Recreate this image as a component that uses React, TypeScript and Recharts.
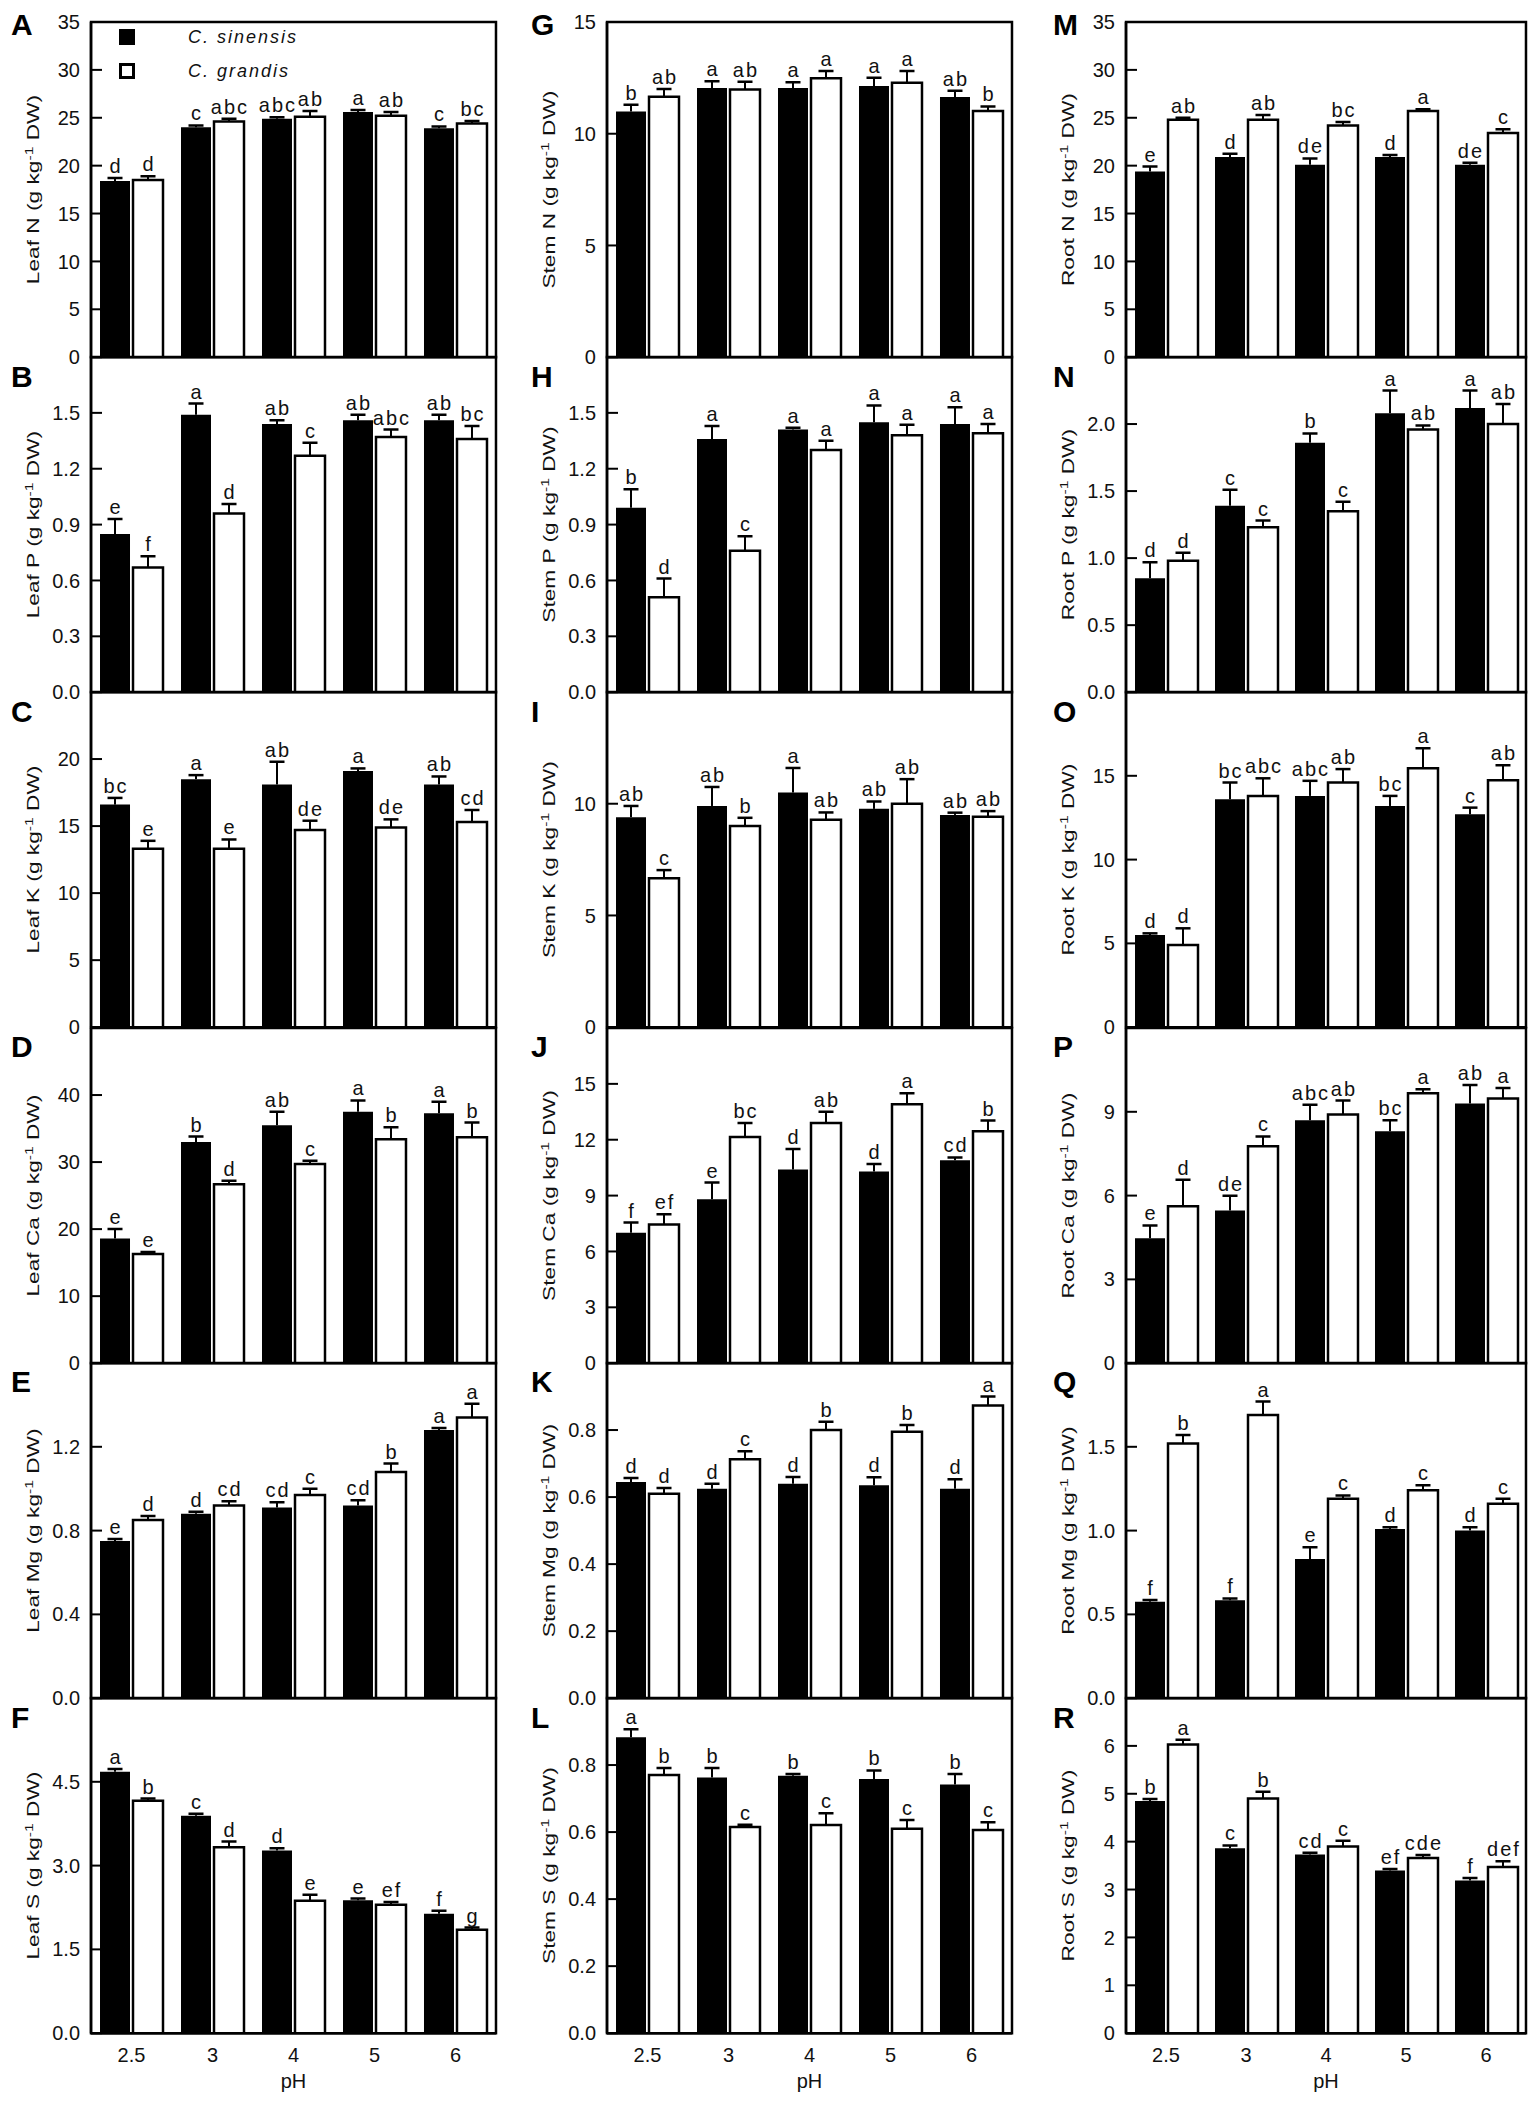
import React from 'react';
import { BarChart, Bar, XAxis, YAxis, LabelList, Legend, ReferenceArea } from 'recharts';

const FONT = 'Arial, "Liberation Sans", Helvetica, sans-serif';

// ---------- categories / legend ----------
const PH = ['2.5', '3', '4', '5', '6'];
const SPECIES = ['C. sinensis', 'C. grandis'];

// ---------- Leaf ----------
const leafN_sin = [18.4, 24.0, 24.9, 25.6, 23.9];
const leafN_sinSE = [0.3, 0.2, 0.15, 0.2, 0.2];
const leafN_gra = [18.5, 24.6, 25.1, 25.2, 24.4];
const leafN_graSE = [0.4, 0.3, 0.6, 0.4, 0.25];
const leafN_sinLet = ['d', 'c', 'abc', 'a', 'c'];
const leafN_graLet = ['d', 'abc', 'ab', 'ab', 'bc'];

const leafP_sin = [0.85, 1.49, 1.44, 1.46, 1.46];
const leafP_sinSE = [0.08, 0.06, 0.02, 0.03, 0.03];
const leafP_gra = [0.67, 0.96, 1.27, 1.37, 1.36];
const leafP_graSE = [0.06, 0.05, 0.07, 0.04, 0.07];
const leafP_sinLet = ['e', 'a', 'ab', 'ab', 'ab'];
const leafP_graLet = ['f', 'd', 'c', 'abc', 'bc'];

const leafK_sin = [16.6, 18.5, 18.1, 19.1, 18.1];
const leafK_sinSE = [0.5, 0.3, 1.7, 0.2, 0.6];
const leafK_gra = [13.3, 13.3, 14.7, 14.9, 15.3];
const leafK_graSE = [0.6, 0.7, 0.7, 0.6, 0.9];
const leafK_sinLet = ['bc', 'a', 'ab', 'a', 'ab'];
const leafK_graLet = ['e', 'e', 'de', 'de', 'cd'];

const leafCa_sin = [18.6, 33.0, 35.5, 37.5, 37.3];
const leafCa_sinSE = [1.4, 0.8, 2.0, 1.7, 1.7];
const leafCa_gra = [16.3, 26.7, 29.7, 33.4, 33.7];
const leafCa_graSE = [0.3, 0.5, 0.5, 1.8, 2.2];
const leafCa_sinLet = ['e', 'b', 'ab', 'a', 'a'];
const leafCa_graLet = ['e', 'd', 'c', 'b', 'b'];

const leafMg_sin = [0.75, 0.88, 0.91, 0.92, 1.28];
const leafMg_sinSE = [0.01, 0.01, 0.025, 0.025, 0.01];
const leafMg_gra = [0.85, 0.92, 0.97, 1.08, 1.34];
const leafMg_graSE = [0.02, 0.02, 0.03, 0.04, 0.065];
const leafMg_sinLet = ['e', 'd', 'cd', 'cd', 'a'];
const leafMg_graLet = ['d', 'cd', 'c', 'b', 'a'];

const leafS_sin = [4.68, 3.89, 3.27, 2.38, 2.14];
const leafS_sinSE = [0.05, 0.04, 0.04, 0.03, 0.05];
const leafS_gra = [4.16, 3.33, 2.37, 2.3, 1.85];
const leafS_graSE = [0.04, 0.1, 0.11, 0.05, 0.04];
const leafS_sinLet = ['a', 'c', 'd', 'e', 'f'];
const leafS_graLet = ['b', 'd', 'e', 'ef', 'g'];

// ---------- Stem ----------
const stemN_sin = [11.0, 12.05, 12.05, 12.14, 11.64];
const stemN_sinSE = [0.3, 0.3, 0.25, 0.37, 0.28];
const stemN_gra = [11.65, 11.98, 12.48, 12.28, 11.02];
const stemN_graSE = [0.35, 0.35, 0.33, 0.53, 0.2];
const stemN_sinLet = ['b', 'a', 'a', 'a', 'ab'];
const stemN_graLet = ['ab', 'ab', 'a', 'a', 'b'];

const stemP_sin = [0.99, 1.36, 1.41, 1.45, 1.44];
const stemP_sinSE = [0.1, 0.07, 0.01, 0.09, 0.09];
const stemP_gra = [0.51, 0.76, 1.3, 1.38, 1.39];
const stemP_graSE = [0.1, 0.077, 0.05, 0.056, 0.05];
const stemP_sinLet = ['b', 'a', 'a', 'a', 'a'];
const stemP_graLet = ['d', 'c', 'a', 'a', 'a'];

const stemK_sin = [9.4, 9.9, 10.5, 9.77, 9.5];
const stemK_sinSE = [0.5, 0.85, 1.1, 0.33, 0.1];
const stemK_gra = [6.66, 9.0, 9.28, 10.0, 9.42];
const stemK_graSE = [0.37, 0.37, 0.33, 1.1, 0.25];
const stemK_sinLet = ['ab', 'ab', 'a', 'ab', 'ab'];
const stemK_graLet = ['c', 'b', 'ab', 'ab', 'ab'];

const stemCa_sin = [7.0, 8.8, 10.4, 10.3, 10.9];
const stemCa_sinSE = [0.55, 0.9, 1.1, 0.4, 0.15];
const stemCa_gra = [7.45, 12.15, 12.9, 13.9, 12.45];
const stemCa_graSE = [0.55, 0.75, 0.6, 0.6, 0.58];
const stemCa_sinLet = ['f', 'e', 'd', 'd', 'cd'];
const stemCa_graLet = ['ef', 'bc', 'ab', 'a', 'b'];

const stemMg_sin = [0.645, 0.625, 0.64, 0.635, 0.625];
const stemMg_sinSE = [0.012, 0.015, 0.02, 0.024, 0.028];
const stemMg_gra = [0.61, 0.713, 0.8, 0.795, 0.873];
const stemMg_graSE = [0.017, 0.024, 0.025, 0.02, 0.027];
const stemMg_sinLet = ['d', 'd', 'd', 'd', 'd'];
const stemMg_graLet = ['d', 'c', 'b', 'b', 'a'];

const stemS_sin = [0.883, 0.763, 0.768, 0.758, 0.742];
const stemS_sinSE = [0.024, 0.028, 0.005, 0.026, 0.031];
const stemS_gra = [0.77, 0.615, 0.621, 0.61, 0.606];
const stemS_graSE = [0.021, 0.007, 0.035, 0.026, 0.023];
const stemS_sinLet = ['a', 'b', 'b', 'b', 'b'];
const stemS_graLet = ['b', 'c', 'c', 'c', 'c'];

// ---------- Root ----------
const rootN_sin = [19.4, 20.9, 20.1, 20.9, 20.1];
const rootN_sinSE = [0.5, 0.35, 0.65, 0.2, 0.2];
const rootN_gra = [24.8, 24.8, 24.2, 25.7, 23.4];
const rootN_graSE = [0.2, 0.5, 0.35, 0.2, 0.4];
const rootN_sinLet = ['e', 'd', 'de', 'd', 'de'];
const rootN_graLet = ['ab', 'ab', 'bc', 'a', 'c'];

const rootP_sin = [0.85, 1.39, 1.86, 2.08, 2.12];
const rootP_sinSE = [0.12, 0.12, 0.07, 0.17, 0.13];
const rootP_gra = [0.98, 1.23, 1.35, 1.96, 2.0];
const rootP_graSE = [0.06, 0.05, 0.07, 0.03, 0.15];
const rootP_sinLet = ['d', 'c', 'b', 'a', 'a'];
const rootP_graLet = ['d', 'c', 'c', 'ab', 'ab'];

const rootK_sin = [5.5, 13.6, 13.8, 13.2, 12.7];
const rootK_sinSE = [0.1, 1.0, 0.9, 0.6, 0.4];
const rootK_gra = [4.9, 13.8, 14.6, 15.45, 14.73];
const rootK_graSE = [1.0, 1.05, 0.8, 1.2, 0.9];
const rootK_sinLet = ['d', 'bc', 'abc', 'bc', 'c'];
const rootK_graLet = ['d', 'abc', 'ab', 'a', 'ab'];

const rootCa_sin = [4.47, 5.47, 8.7, 8.3, 9.3];
const rootCa_sinSE = [0.46, 0.52, 0.55, 0.4, 0.66];
const rootCa_gra = [5.62, 7.77, 8.9, 9.66, 9.48];
const rootCa_graSE = [0.95, 0.35, 0.5, 0.15, 0.37];
const rootCa_sinLet = ['e', 'de', 'abc', 'bc', 'ab'];
const rootCa_graLet = ['d', 'c', 'ab', 'a', 'a'];

const rootMg_sin = [0.576, 0.585, 0.83, 1.01, 1.0];
const rootMg_sinSE = [0.01, 0.01, 0.07, 0.01, 0.02];
const rootMg_gra = [1.52, 1.69, 1.19, 1.24, 1.16];
const rootMg_graSE = [0.05, 0.08, 0.02, 0.03, 0.03];
const rootMg_sinLet = ['f', 'f', 'e', 'd', 'd'];
const rootMg_graLet = ['b', 'a', 'c', 'c', 'c'];

const rootS_sin = [4.85, 3.86, 3.73, 3.4, 3.19];
const rootS_sinSE = [0.04, 0.06, 0.04, 0.03, 0.05];
const rootS_gra = [6.03, 4.9, 3.9, 3.66, 3.47];
const rootS_graSE = [0.1, 0.14, 0.12, 0.06, 0.12];
const rootS_sinLet = ['b', 'c', 'cd', 'ef', 'f'];
const rootS_graLet = ['a', 'b', 'c', 'cde', 'def'];

// ---------- axis tick labels ----------
const TICKS_0_35 = [0, 5, 10, 15, 20, 25, 30, 35];
const TICKS_0_15_P3 = [0, 0.3, 0.6, 0.9, 1.2, 1.5];

type PanelDef = {
  letter: string;
  title: string;
  sin: number[];
  sinSE: number[];
  gra: number[];
  graSE: number[];
  sinLet: string[];
  graLet: string[];
  max: number;
  ticks: number[];
  dec: number;
};

const COLUMNS: PanelDef[][] = [
  [
    { letter: 'A', title: 'Leaf N', sin: leafN_sin, sinSE: leafN_sinSE, gra: leafN_gra, graSE: leafN_graSE, sinLet: leafN_sinLet, graLet: leafN_graLet, max: 35, ticks: TICKS_0_35, dec: 0 },
    { letter: 'B', title: 'Leaf P', sin: leafP_sin, sinSE: leafP_sinSE, gra: leafP_gra, graSE: leafP_graSE, sinLet: leafP_sinLet, graLet: leafP_graLet, max: 1.8, ticks: TICKS_0_15_P3, dec: 1 },
    { letter: 'C', title: 'Leaf K', sin: leafK_sin, sinSE: leafK_sinSE, gra: leafK_gra, graSE: leafK_graSE, sinLet: leafK_sinLet, graLet: leafK_graLet, max: 25, ticks: [0, 5, 10, 15, 20], dec: 0 },
    { letter: 'D', title: 'Leaf Ca', sin: leafCa_sin, sinSE: leafCa_sinSE, gra: leafCa_gra, graSE: leafCa_graSE, sinLet: leafCa_sinLet, graLet: leafCa_graLet, max: 50, ticks: [0, 10, 20, 30, 40], dec: 0 },
    { letter: 'E', title: 'Leaf Mg', sin: leafMg_sin, sinSE: leafMg_sinSE, gra: leafMg_gra, graSE: leafMg_graSE, sinLet: leafMg_sinLet, graLet: leafMg_graLet, max: 1.6, ticks: [0, 0.4, 0.8, 1.2], dec: 1 },
    { letter: 'F', title: 'Leaf S', sin: leafS_sin, sinSE: leafS_sinSE, gra: leafS_gra, graSE: leafS_graSE, sinLet: leafS_sinLet, graLet: leafS_graLet, max: 6, ticks: [0, 1.5, 3, 4.5], dec: 1 },
  ],
  [
    { letter: 'G', title: 'Stem N', sin: stemN_sin, sinSE: stemN_sinSE, gra: stemN_gra, graSE: stemN_graSE, sinLet: stemN_sinLet, graLet: stemN_graLet, max: 15, ticks: [0, 5, 10, 15], dec: 0 },
    { letter: 'H', title: 'Stem P', sin: stemP_sin, sinSE: stemP_sinSE, gra: stemP_gra, graSE: stemP_graSE, sinLet: stemP_sinLet, graLet: stemP_graLet, max: 1.8, ticks: TICKS_0_15_P3, dec: 1 },
    { letter: 'I', title: 'Stem K', sin: stemK_sin, sinSE: stemK_sinSE, gra: stemK_gra, graSE: stemK_graSE, sinLet: stemK_sinLet, graLet: stemK_graLet, max: 15, ticks: [0, 5, 10], dec: 0 },
    { letter: 'J', title: 'Stem Ca', sin: stemCa_sin, sinSE: stemCa_sinSE, gra: stemCa_gra, graSE: stemCa_graSE, sinLet: stemCa_sinLet, graLet: stemCa_graLet, max: 18, ticks: [0, 3, 6, 9, 12, 15], dec: 0 },
    { letter: 'K', title: 'Stem Mg', sin: stemMg_sin, sinSE: stemMg_sinSE, gra: stemMg_gra, graSE: stemMg_graSE, sinLet: stemMg_sinLet, graLet: stemMg_graLet, max: 1.0, ticks: [0, 0.2, 0.4, 0.6, 0.8], dec: 1 },
    { letter: 'L', title: 'Stem S', sin: stemS_sin, sinSE: stemS_sinSE, gra: stemS_gra, graSE: stemS_graSE, sinLet: stemS_sinLet, graLet: stemS_graLet, max: 1.0, ticks: [0, 0.2, 0.4, 0.6, 0.8], dec: 1 },
  ],
  [
    { letter: 'M', title: 'Root N', sin: rootN_sin, sinSE: rootN_sinSE, gra: rootN_gra, graSE: rootN_graSE, sinLet: rootN_sinLet, graLet: rootN_graLet, max: 35, ticks: TICKS_0_35, dec: 0 },
    { letter: 'N', title: 'Root P', sin: rootP_sin, sinSE: rootP_sinSE, gra: rootP_gra, graSE: rootP_graSE, sinLet: rootP_sinLet, graLet: rootP_graLet, max: 2.5, ticks: [0, 0.5, 1, 1.5, 2], dec: 1 },
    { letter: 'O', title: 'Root K', sin: rootK_sin, sinSE: rootK_sinSE, gra: rootK_gra, graSE: rootK_graSE, sinLet: rootK_sinLet, graLet: rootK_graLet, max: 20, ticks: [0, 5, 10, 15], dec: 0 },
    { letter: 'P', title: 'Root Ca', sin: rootCa_sin, sinSE: rootCa_sinSE, gra: rootCa_gra, graSE: rootCa_graSE, sinLet: rootCa_sinLet, graLet: rootCa_graLet, max: 12, ticks: [0, 3, 6, 9], dec: 0 },
    { letter: 'Q', title: 'Root Mg', sin: rootMg_sin, sinSE: rootMg_sinSE, gra: rootMg_gra, graSE: rootMg_graSE, sinLet: rootMg_sinLet, graLet: rootMg_graLet, max: 2.0, ticks: [0, 0.5, 1, 1.5], dec: 1 },
    { letter: 'R', title: 'Root S', sin: rootS_sin, sinSE: rootS_sinSE, gra: rootS_gra, graSE: rootS_graSE, sinLet: rootS_sinLet, graLet: rootS_graLet, max: 7, ticks: [0, 1, 2, 3, 4, 5, 6], dec: 0 },
  ],
];

// ---------- layout ----------
const COL_AXIS_X = [91, 607, 1126];
const COL_PLOT_W = [405, 405, 400];
const LETTER_X = [11, 531, 1053];
const ROW_TOP0 = 22;
const ROW_H = 335.2;
const YW = 90;
const TOP_PAD = 20;
const RIGHT_PAD = 10;
const AXIS_STYLE = { stroke: '#000', strokeWidth: 2.5 };

const ErrShape = (props: any) => {
  const { x, y, width, height } = props;
  if (x == null || y == null) return null;
  const cx = x + width / 2;
  return (
    <g>
      <line x1={cx} y1={y} x2={cx} y2={y + height} stroke="#000" strokeWidth={2} />
      <line x1={cx - 7.5} y1={y} x2={cx + 7.5} y2={y} stroke="#000" strokeWidth={2.5} />
    </g>
  );
};

const LetterLabel = (props: any) => {
  const vb = props.viewBox || {};
  const x = props.x ?? vb.x;
  const y = props.y ?? vb.y;
  const w = props.width ?? vb.width ?? 0;
  if (x == null || y == null) return null;
  return (
    <text
      x={x + w / 2 + 1}
      y={y - 5}
      textAnchor="middle"
      fontSize={20}
      fontFamily={FONT}
      letterSpacing={2}
      fill="#111"
    >
      {props.value}
    </text>
  );
};

const makeYTitle = (title: string) => (props: any) => {
  const vb = props.viewBox || { x: 0, y: TOP_PAD, width: YW, height: ROW_H };
  const bx = vb.x + vb.width - 52;
  const cy = vb.y + vb.height / 2;
  return (
    <text
      transform={`translate(${bx},${cy}) rotate(-90) scale(1.42,1)`}
      textAnchor="middle"
      fontSize={16}
      fontFamily={FONT}
      fill="#111"
    >
      <tspan>{title} (g kg</tspan>
      <tspan fontSize={11} dy={-6}>-1</tspan>
      <tspan dy={6}> DW)</tspan>
    </text>
  );
};

const PHLabel = (props: any) => {
  const vb = props.viewBox || { x: YW, y: TOP_PAD + ROW_H, width: 405, height: 60 };
  return (
    <text
      x={vb.x + vb.width / 2}
      y={vb.y + 48}
      textAnchor="middle"
      dominantBaseline="central"
      fontSize={20}
      fontFamily={FONT}
      fill="#111"
    >
      pH
    </text>
  );
};

const LegendContent = () => (
  <div style={{ fontFamily: FONT }}>
    {SPECIES.map((name: string, i: number) => (
      <div
        key={name}
        style={{ display: 'flex', alignItems: 'center', height: 16, marginBottom: i === 0 ? 18 : 0 }}
      >
        <div
          style={{
            width: 16,
            height: 16,
            boxSizing: 'border-box',
            background: i === 0 ? '#000' : '#fff',
            border: '3px solid #000',
            flex: 'none',
          }}
        />
        <span
          style={{
            marginLeft: 53,
            fontSize: 18,
            fontStyle: 'italic',
            letterSpacing: 2,
            color: '#111',
            lineHeight: '16px',
            whiteSpace: 'nowrap',
          }}
        >
          {name}
        </span>
      </div>
    ))}
  </div>
);

const Panel = ({ def, col, row }: { def: PanelDef; col: number; row: number }) => {
  const data = PH.map((ph, i) => ({
    ph,
    sin: def.sin[i],
    sinE: def.sinSE[i],
    sinL: def.sinLet[i],
    gra: def.gra[i],
    graE: def.graSE[i],
    graL: def.graLet[i],
  }));
  const isBottom = row === 5;
  const xH = isBottom ? 60 : 0;
  const plotW = COL_PLOT_W[col];
  const plotTop = ROW_TOP0 + row * ROW_H;
  const width = YW + plotW + RIGHT_PAD;
  const height = TOP_PAD + ROW_H + xH + 10;
  const showLegend = row === 0 && col === 0;
  return (
    <div style={{ position: 'absolute', left: COL_AXIS_X[col] - YW, top: plotTop - TOP_PAD }}>
      <BarChart
        width={width}
        height={height}
        data={data}
        margin={{ top: TOP_PAD, right: RIGHT_PAD, left: 0, bottom: 10 }}
        barCategoryGap={9}
        barGap={3}
      >
        <XAxis
          dataKey="ph"
          height={xH}
          interval={0}
          tickLine={false}
          axisLine={AXIS_STYLE}
          tickMargin={9}
          tick={isBottom ? { fontSize: 20, fill: '#111', fontFamily: FONT } : false}
          label={isBottom ? { content: PHLabel } : undefined}
        />
        <YAxis
          type="number"
          domain={[0, def.max]}
          ticks={def.ticks}
          interval={0}
          width={YW}
          allowDataOverflow
          tickSize={-11}
          tickMargin={22}
          tickLine={{ stroke: '#000', strokeWidth: 2 }}
          axisLine={AXIS_STYLE}
          tick={{ fontSize: 20, fill: '#111', fontFamily: FONT }}
          tickFormatter={(v: number) => v.toFixed(def.dec)}
          label={{ content: makeYTitle(def.title) }}
        />
        <Bar dataKey="sin" name={SPECIES[0]} stackId="s" fill="#000" isAnimationActive={false} />
        <Bar dataKey="sinE" stackId="s" legendType="none" shape={ErrShape} isAnimationActive={false}>
          <LabelList dataKey="sinL" content={LetterLabel} />
        </Bar>
        <Bar dataKey="gra" name={SPECIES[1]} stackId="g" fill="#fff" stroke="#000" strokeWidth={2.5} isAnimationActive={false} />
        <Bar dataKey="graE" stackId="g" legendType="none" shape={ErrShape} isAnimationActive={false}>
          <LabelList dataKey="graL" content={LetterLabel} />
        </Bar>
        <ReferenceArea
          x1={PH[0]}
          x2={PH[PH.length - 1]}
          y1={0}
          y2={def.max}
          fill="none"
          fillOpacity={0}
          stroke="#000"
          strokeWidth={2.5}
          ifOverflow="visible"
        />
        {showLegend && (
          <Legend
            layout="vertical"
            align="center"
            verticalAlign="middle"
            wrapperStyle={{ left: 118, top: 27, width: 260 }}
            content={LegendContent}
          />
        )}
      </BarChart>
    </div>
  );
};

export default function App() {
  return (
    <div
      style={{
        position: 'absolute',
        left: 0,
        top: 0,
        width: 1535,
        height: 2102,
        background: '#fff',
        fontFamily: FONT,
        overflow: 'hidden',
      }}
    >
      {COLUMNS.map((colDefs, c) =>
        colDefs.map((def, r) => (
          <React.Fragment key={def.letter}>
            <Panel def={def} col={c} row={r} />
            <div
              style={{
                position: 'absolute',
                left: LETTER_X[c],
                top: r === 0 ? 9.6 : ROW_TOP0 + r * ROW_H + 4.6,
                fontSize: 30,
                fontWeight: 'bold',
                lineHeight: '30px',
                color: '#000',
                fontFamily: FONT,
              }}
            >
              {def.letter}
            </div>
          </React.Fragment>
        ))
      )}
    </div>
  );
}
